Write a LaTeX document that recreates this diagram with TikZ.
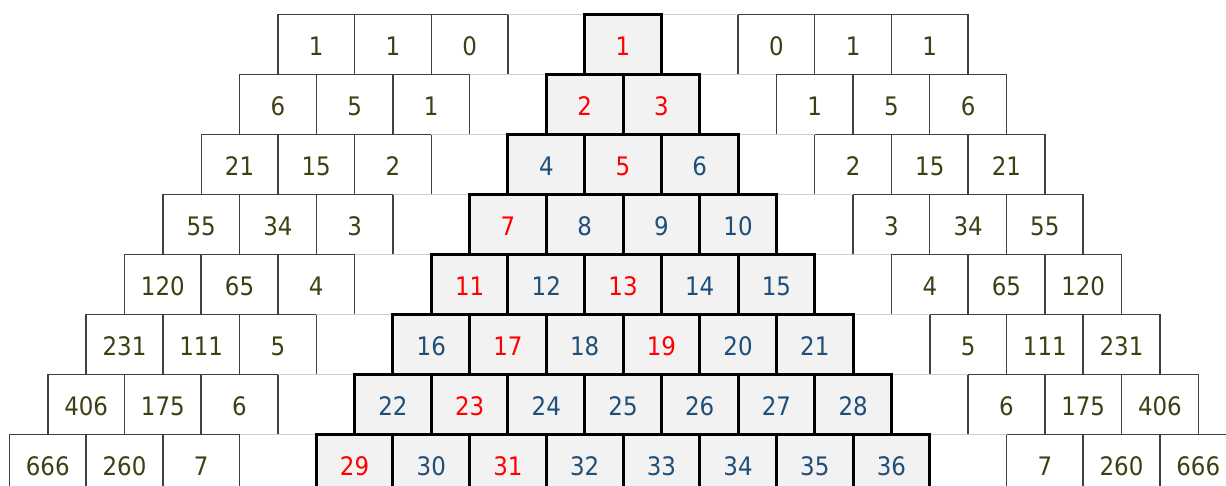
\documentclass[tikz,border=0pt]{standalone}
\usepackage{fontspec}
\setmainfont{DejaVu Sans Condensed}
\usetikzlibrary{positioning}
\definecolor{cblue}{HTML}{1F4E79}
\definecolor{cred}{HTML}{FF0000}
\definecolor{colive}{HTML}{3F3F14}
\definecolor{cfill}{HTML}{F2F2F2}
\definecolor{cedge}{HTML}{404040}
\definecolor{cfaint}{HTML}{CFCFCF}
\tikzset{
  every picture/.style={font=\fontsize{14.5}{16}\selectfont},
  cell/.style={draw=cedge, line width=0.8pt, minimum width=1.534cm, minimum height=1.2cm, inner sep=0pt, outer sep=0pt, text height=12.8pt, text depth=0pt, text=colive},
  pcell/.style={draw=black, line width=1.7pt, fill=cfill, minimum width=1.534cm, minimum height=1.2cm, inner sep=0pt, outer sep=0pt, text height=12.8pt, text depth=0pt, text=#1},
  pcell/.default=cblue,
  gap/.style={minimum width=1.534cm, minimum height=1.2cm, inner sep=0pt, outer sep=0pt},
  faint/.style={draw=cfaint, line width=0.7pt},
}

\begin{document}
\begin{tikzpicture}[x=0.02cm, y=-0.02cm]
  \clip (0,0) rectangle (1226,486);
  % side blocks
  \foreach \r/\a/\b in {1/1/1, 2/6/5, 3/21/15, 4/55/34, 5/120/65, 6/231/111, 7/406/175, 8/666/260} {
    \pgfmathsetmacro\yc{44.7+60*(\r-1)}
    \pgfmathsetmacro\xl{623-\r*38.35-38.35}
    \pgfmathsetmacro\xr{623+\r*38.35+38.35}
    \pgfmathtruncatemacro\c{\r-1}
    \node[gap] (gl\r) at (\xl,\yc) {};
    \node[cell, left=0pt of gl\r] (lc\r) {\c};
    \node[cell, left=0pt of lc\r] (lb\r) {\b};
    \node[cell, left=0pt of lb\r] (la\r) {\a};
    \node[gap] (gr\r) at (\xr,\yc) {};
    \node[cell, right=0pt of gr\r] (rc\r) {\c};
    \node[cell, right=0pt of rc\r] (rb\r) {\b};
    \node[cell, right=0pt of rb\r] (ra\r) {\a};
    \draw[faint] (gl\r.north west) -- (gl\r.north east) (gl\r.south west) -- (gl\r.south east);
    \draw[faint] (gr\r.north west) -- (gr\r.north east) (gr\r.south west) -- (gr\r.south east);
  }
  % pyramid
  \foreach \r in {1,...,8}
    \foreach \k in {1,...,\r} {
      \pgfmathtruncatemacro\n{\r*(\r-1)/2+\k}
      \pgfmathtruncatemacro\isred{or(\n==1,isprime(\n))}
      \pgfmathsetmacro\xp{623-(\r-1)*38.35+(\k-1)*76.7}
      \pgfmathsetmacro\yp{44.7+60*(\r-1)}
      \ifnum\isred=1 \def\tc{cred}\else\def\tc{cblue}\fi
      \node[pcell=\tc] (p\n) at (\xp,\yp) {\n};
    }
\end{tikzpicture}
\end{document}
